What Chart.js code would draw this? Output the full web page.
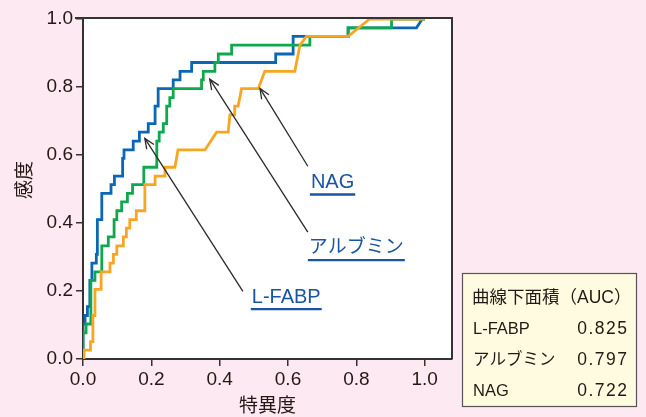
<!DOCTYPE html>
<html>
<head>
<meta charset="utf-8">
<script src="https://cdn.jsdelivr.net/npm/chart.js@4.4.1/dist/chart.umd.min.js"></script>
<style>
  html, body { margin: 0; padding: 0; background: #fce9f1; }
  #wrap { width: 646px; height: 417px; }
</style>
</head>
<body>
<div id="wrap"><canvas id="rocChart" width="646" height="417"></canvas></div>
<script>
// ROC曲線の座標 [1-特異度, 感度]
const lfabpRoc = [
  [0, 0], [0, 0.103], [0.006, 0.103], [0.006, 0.128], [0.013, 0.128], [0.013, 0.154],
  [0.020, 0.154], [0.020, 0.231], [0.026, 0.231], [0.026, 0.282], [0.039, 0.282], [0.039, 0.308],
  [0.042, 0.308], [0.042, 0.410], [0.055, 0.410], [0.055, 0.487], [0.082, 0.487], [0.082, 0.513],
  [0.092, 0.513], [0.092, 0.538], [0.116, 0.538], [0.116, 0.590], [0.120, 0.590], [0.120, 0.615],
  [0.147, 0.615], [0.147, 0.641], [0.165, 0.641], [0.165, 0.667], [0.191, 0.667], [0.191, 0.692],
  [0.211, 0.692], [0.211, 0.744], [0.220, 0.744], [0.220, 0.795], [0.264, 0.795], [0.264, 0.821],
  [0.284, 0.821], [0.284, 0.846], [0.318, 0.846], [0.318, 0.872], [0.564, 0.872], [0.564, 0.897],
  [0.615, 0.897], [0.615, 0.949], [0.776, 0.949], [0.776, 0.974], [0.976, 0.974], [0.993, 1.0],
  [1.0, 1.0]
];
const albuminRoc = [
  [0, 0], [0, 0.077], [0.009, 0.077], [0.009, 0.103], [0.023, 0.103], [0.023, 0.231],
  [0.035, 0.231], [0.035, 0.256], [0.055, 0.256], [0.055, 0.333], [0.074, 0.333], [0.074, 0.359],
  [0.091, 0.359], [0.091, 0.410], [0.099, 0.410], [0.099, 0.436], [0.113, 0.436], [0.113, 0.462],
  [0.130, 0.462], [0.130, 0.487], [0.145, 0.487], [0.145, 0.513], [0.178, 0.513], [0.178, 0.564],
  [0.216, 0.564], [0.216, 0.641], [0.223, 0.641], [0.223, 0.667], [0.235, 0.667], [0.235, 0.692],
  [0.245, 0.692], [0.245, 0.744], [0.254, 0.744], [0.254, 0.769], [0.264, 0.769], [0.264, 0.795],
  [0.347, 0.795], [0.347, 0.821], [0.352, 0.821], [0.352, 0.846], [0.386, 0.846], [0.386, 0.872],
  [0.396, 0.872], [0.396, 0.897], [0.435, 0.897], [0.435, 0.923], [0.664, 0.923], [0.664, 0.949],
  [0.776, 0.949], [0.776, 0.974], [0.903, 0.974], [0.903, 1.0], [1.0, 1.0]
];
const nagRoc = [
  [0, 0], [0.003, 0], [0.003, 0.026], [0.022, 0.026], [0.022, 0.051], [0.029, 0.051],
  [0.029, 0.128], [0.035, 0.128], [0.035, 0.205], [0.053, 0.205], [0.053, 0.256], [0.079, 0.256],
  [0.079, 0.282], [0.089, 0.282], [0.089, 0.308], [0.099, 0.308], [0.099, 0.333], [0.118, 0.333],
  [0.118, 0.359], [0.127, 0.359], [0.127, 0.385], [0.137, 0.385], [0.137, 0.410], [0.156, 0.410],
  [0.156, 0.436], [0.181, 0.436], [0.181, 0.513], [0.211, 0.513], [0.211, 0.538], [0.240, 0.538],
  [0.240, 0.564], [0.269, 0.564], [0.278, 0.615], [0.357, 0.615], [0.391, 0.667], [0.425, 0.667],
  [0.430, 0.718], [0.442, 0.718], [0.444, 0.744], [0.454, 0.744], [0.464, 0.795], [0.513, 0.795],
  [0.532, 0.846], [0.620, 0.846], [0.635, 0.923], [0.654, 0.949], [0.776, 0.949], [0.839, 1.0],
  [1.0, 1.0]
];

const seriesNames = ['L-FABP', 'アルブミン', 'NAG'];
const aucValues = [0.825, 0.797, 0.722];
const xTickValues = [0, 0.2, 0.4, 0.6, 0.8, 1.0];
const yTickValues = [0, 0.2, 0.4, 0.6, 0.8, 1.0];

// 矢印と名前ラベル（データ座標）
const callouts = [
  { name: 'NAG', label: [0.667, 0.519], tip: [0.518, 0.796], tail: [0.658, 0.567] },
  { name: 'アルブミン', label: [0.661, 0.326], tip: [0.371, 0.823], tail: [0.658, 0.373] },
  { name: 'L-FABP', label: [0.494, 0.182], tip: [0.181, 0.649], tail: [0.468, 0.199] }
];

const FONT = '"Liberation Sans", Arial, "Noto Sans CJK JP", sans-serif';
const TEXT = '#231815';
const LINK = '#1a55a3';

function drawArrow(ctx, x1, y1, x2, y2) {
  ctx.beginPath();
  ctx.moveTo(x1, y1);
  ctx.lineTo(x2, y2);
  ctx.stroke();
  const ang = Math.atan2(y2 - y1, x2 - x1);
  const len = 11, spread = 0.4;
  ctx.beginPath();
  ctx.moveTo(x2 - len * Math.cos(ang - spread), y2 - len * Math.sin(ang - spread));
  ctx.lineTo(x2, y2);
  ctx.lineTo(x2 - len * Math.cos(ang + spread), y2 - len * Math.sin(ang + spread));
  ctx.stroke();
}

const decoPlugin = {
  id: 'deco',
  beforeDraw(chart) {
    const { ctx, chartArea: a } = chart;
    ctx.save();
    ctx.fillStyle = '#fce9f1';
    ctx.fillRect(0, 0, chart.width, chart.height);
    ctx.fillStyle = '#ffffff';
    ctx.fillRect(a.left, a.top - 1, a.right - a.left, a.bottom - a.top + 1);
    ctx.restore();
  },
  afterDatasetsDraw(chart) {
    const { ctx } = chart;
    const xs = chart.scales.x, ys = chart.scales.y;
    ctx.save();
    ctx.strokeStyle = '#2a2a2a';
    ctx.lineWidth = 1.3;
    callouts.forEach(c => {
      drawArrow(ctx, xs.getPixelForValue(c.tail[0]), ys.getPixelForValue(c.tail[1]),
        xs.getPixelForValue(c.tip[0]), ys.getPixelForValue(c.tip[1]));
    });
    ctx.fillStyle = LINK;
    ctx.strokeStyle = LINK;
    ctx.textBaseline = 'middle';
    ctx.textAlign = 'left';
    callouts.forEach(c => {
      ctx.font = (c.name === 'アルブミン' ? '19px ' : '20px ') + FONT;
      const lx = xs.getPixelForValue(c.label[0]);
      const ly = ys.getPixelForValue(c.label[1]);
      ctx.fillText(c.name, lx, ly);
      const w = ctx.measureText(c.name).width;
      ctx.lineWidth = 2.4;
      ctx.beginPath();
      ctx.moveTo(lx - 1, ly + 12);
      ctx.lineTo(lx + w + 1, ly + 12);
      ctx.stroke();
    });
    ctx.restore();
  },
  afterDraw(chart) {
    const { ctx, chartArea: a } = chart;
    ctx.save();
    // 枠の上と右
    ctx.strokeStyle = '#333333';
    ctx.lineWidth = 2;
    ctx.beginPath();
    ctx.moveTo(a.left - 8, a.top - 1);
    ctx.lineTo(a.right, a.top - 1);
    ctx.lineTo(a.right, a.bottom);
    ctx.stroke();

    // 軸タイトル
    ctx.fillStyle = TEXT;
    ctx.font = '19px "Noto Sans CJK JP", sans-serif';
    ctx.textAlign = 'center';
    ctx.textBaseline = 'middle';
    ctx.fillText('特異度', (a.left + a.right) / 2, 405);
    ctx.save();
    ctx.translate(24, 180);
    ctx.rotate(-Math.PI / 2);
    ctx.fillText('感度', 0, 0);
    ctx.restore();

    // AUCの表
    ctx.fillStyle = '#fffbe0';
    ctx.fillRect(462.5, 273.5, 174, 133);
    ctx.strokeStyle = '#555555';
    ctx.lineWidth = 1.2;
    ctx.strokeRect(462.5, 273.5, 174, 133);
    ctx.fillStyle = TEXT;
    ctx.textAlign = 'left';
    ctx.font = '17.5px ' + FONT;
    ctx.fillText('曲線下面積（AUC）', 472, 298);
    seriesNames.forEach((n, i) => {
      const y = 329 + i * 31;
      ctx.font = '16.5px ' + FONT;
      ctx.textAlign = 'left';
      ctx.letterSpacing = '0px';
      ctx.fillText(n, 473, y);
      ctx.font = '17.5px ' + FONT;
      ctx.textAlign = 'right';
      ctx.letterSpacing = '1.5px';
      ctx.fillText(aucValues[i].toFixed(3), 628.5, y);
    });
    ctx.letterSpacing = '0px';
    ctx.restore();
  }
};

const toPoints = arr => arr.map(p => ({ x: p[0], y: p[1] }));

new Chart(document.getElementById('rocChart').getContext('2d'), {
  type: 'line',
  data: {
    datasets: [
      { label: 'NAG', data: toPoints(nagRoc), borderColor: '#f6a623', order: 0 },
      { label: 'アルブミン', data: toPoints(albuminRoc), borderColor: '#10a84d', order: 1 },
      { label: 'L-FABP', data: toPoints(lfabpRoc), borderColor: '#0b66b5', order: 2 }
    ].map(d => Object.assign(d, { borderWidth: 2.8, pointRadius: 0, tension: 0, fill: false }))
  },
  options: {
    responsive: false,
    animation: false,
    layout: { padding: { top: 19, right: 194, left: 0, bottom: 0 } },
    plugins: { legend: { display: false }, tooltip: { enabled: false } },
    scales: {
      x: {
        type: 'linear',
        min: 0,
        max: 1.08,
        afterFit: s => { s.height = 58; },
        afterBuildTicks: s => { s.ticks = xTickValues.map(v => ({ value: v })); },
        grid: { drawOnChartArea: false, tickLength: 7, color: '#333', lineWidth: 1.5 },
        border: { color: '#333', width: 2 },
        ticks: { color: TEXT, font: { family: FONT, size: 19 }, padding: 2, maxRotation: 0,
          callback: v => v.toFixed(1) }
      },
      y: {
        min: 0,
        max: 1,
        afterFit: s => { s.width = 83; },
        afterBuildTicks: s => { s.ticks = yTickValues.map(v => ({ value: v })); },
        grid: { drawOnChartArea: false, tickLength: 7, color: '#333', lineWidth: 1.5 },
        border: { color: '#333', width: 2 },
        ticks: { color: TEXT, font: { family: FONT, size: 19 }, padding: 3,
          callback: v => v.toFixed(1) }
      }
    }
  },
  plugins: [decoPlugin]
});
</script>
</body>
</html>
